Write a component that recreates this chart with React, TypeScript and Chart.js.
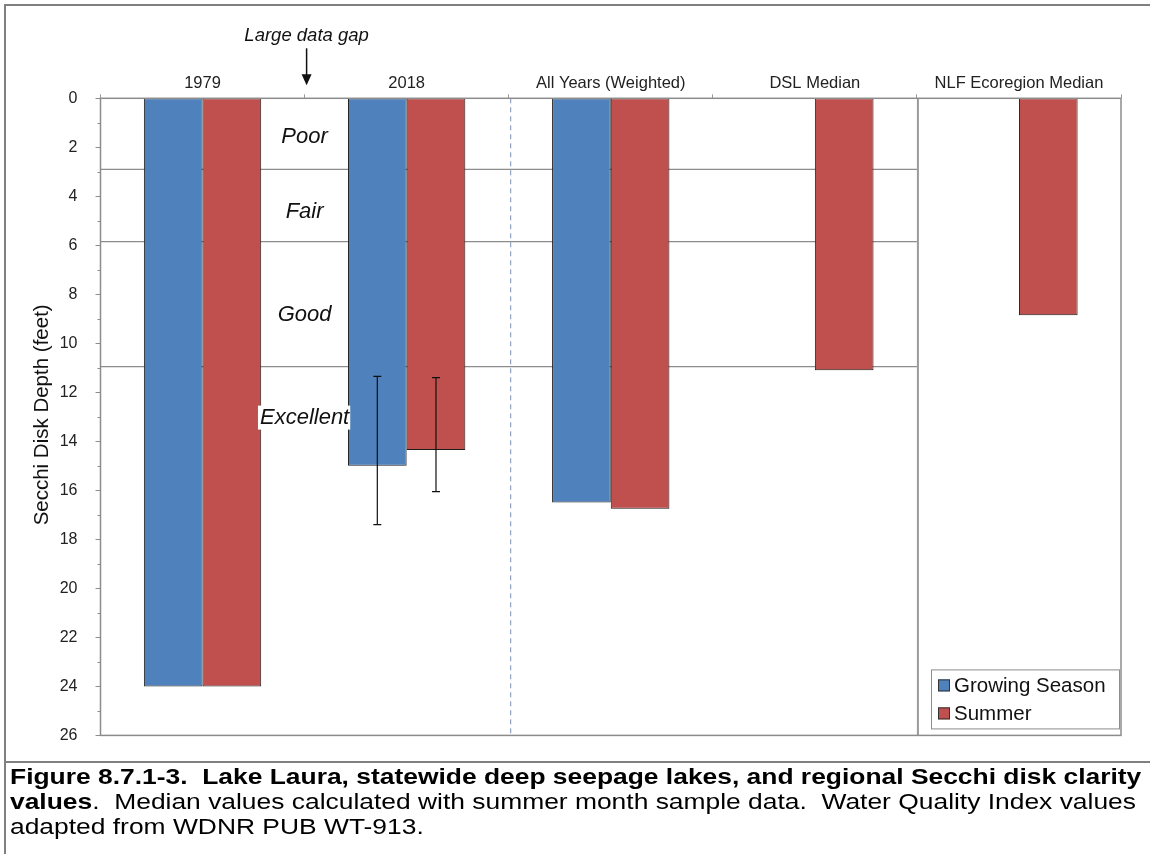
import React, { useEffect, useRef } from 'react';
import { Chart, registerables } from 'chart.js';

Chart.register(...registerables);

const categories = ['1979', '2018', 'All Years (Weighted)', 'DSL Median', 'NLF Ecoregion Median'];
const growingSeason: (number | null)[] = [24.0, 15.0, 16.5, null, null];
const summer: (number | null)[] = [24.0, 14.35, 16.75, 11.1, 8.85];
const growingErrLow: (number | null)[] = [null, 11.35, null, null, null];
const growingErrHigh: (number | null)[] = [null, 17.4, null, null, null];
const summerErrLow: (number | null)[] = [null, 11.4, null, null, null];
const summerErrHigh: (number | null)[] = [null, 16.05, null, null, null];
const qualityBounds = [2.9, 5.85, 10.95];
const qualityNames = ['Poor', 'Fair', 'Good', 'Excellent'];
const qualityLabelDepths = [1.56, 4.63, 8.83, 13.03];
const yTickValues = [0, 2, 4, 6, 8, 10, 12, 14, 16, 18, 20, 22, 24, 26];
const seriesNames = ['Growing Season', 'Summer'];
const seriesColors = ['#4F81BD', '#C0504D'];

const FONT = "'Liberation Sans', Arial, sans-serif";

const overlayPlugin = {
  id: 'overlay',
  beforeDatasetsDraw(chart: any) {
    const { ctx, chartArea: a, scales } = chart;
    const x = scales.x;
    const y = scales.y;
    const b34 = (x.getPixelForValue(3) + x.getPixelForValue(4)) / 2;
    const b12 = (x.getPixelForValue(1) + x.getPixelForValue(2)) / 2;
    ctx.save();
    ctx.strokeStyle = '#8c8c8c';
    ctx.lineWidth = 1.3;
    qualityBounds.forEach((v) => {
      const py = y.getPixelForValue(v);
      ctx.beginPath();
      ctx.moveTo(a.left, py);
      ctx.lineTo(b34, py);
      ctx.stroke();
    });
    ctx.strokeStyle = '#7b8fb5';
    ctx.lineWidth = 1;
    ctx.setLineDash([5, 4]);
    ctx.beginPath();
    ctx.moveTo(b12 + 2, a.top);
    ctx.lineTo(b12 + 2, a.bottom);
    ctx.stroke();
    ctx.setLineDash([]);
    ctx.strokeStyle = '#9a9a9a';
    ctx.lineWidth = 2;
    ctx.beginPath();
    ctx.moveTo(b34 + 1, a.top);
    ctx.lineTo(b34 + 1, a.bottom);
    ctx.stroke();
    ctx.restore();
  },
  afterDatasetsDraw(chart: any) {
    const { ctx, chartArea: a, scales } = chart;
    const x = scales.x;
    const y = scales.y;
    ctx.save();

    // error bars
    const errs = [
      [growingErrLow, growingErrHigh],
      [summerErrLow, summerErrHigh],
    ];
    ctx.strokeStyle = '#111';
    ctx.lineWidth = 1.2;
    errs.forEach(([lo, hi], di) => {
      const meta = chart.getDatasetMeta(di);
      lo.forEach((lv, i) => {
        const hv = hi[i];
        if (lv == null || hv == null) return;
        const el = meta.data[i];
        if (!el) return;
        const px = el.x;
        const y1 = y.getPixelForValue(lv);
        const y2 = y.getPixelForValue(hv);
        ctx.beginPath();
        ctx.moveTo(px, y1);
        ctx.lineTo(px, y2);
        ctx.moveTo(px - 4, y1);
        ctx.lineTo(px + 4, y1);
        ctx.moveTo(px - 4, y2);
        ctx.lineTo(px + 4, y2);
        ctx.stroke();
      });
    });

    // plot frame
    ctx.strokeStyle = '#8c8c8c';
    ctx.lineWidth = 1.5;
    ctx.strokeRect(a.left, a.top, a.right - a.left, a.bottom - a.top);

    // y tick marks (major and minor)
    ctx.strokeStyle = '#8c8c8c';
    ctx.lineWidth = 1;
    for (let v = 0; v <= 26; v++) {
      const py = Math.round(y.getPixelForValue(v)) + 0.5;
      const len = v % 2 === 0 ? 5 : 3;
      ctx.beginPath();
      ctx.moveTo(a.left - len, py);
      ctx.lineTo(a.left, py);
      ctx.stroke();
    }

    // quality labels
    const b01 = (x.getPixelForValue(0) + x.getPixelForValue(1)) / 2;
    ctx.font = `italic 22px ${FONT}`;
    ctx.textAlign = 'center';
    ctx.textBaseline = 'middle';
    qualityNames.forEach((name, i) => {
      const py = y.getPixelForValue(qualityLabelDepths[i]);
      const w = ctx.measureText(name).width;
      if (name === 'Excellent') {
        ctx.fillStyle = '#ffffff';
        ctx.fillRect(b01 - w / 2 - 2, py - 12, w + 3, 24);
      }
      ctx.fillStyle = '#111';
      ctx.fillText(name, b01, py);
    });

    // Large data gap annotation
    const ax = b01 + 2;
    ctx.font = `italic 18.5px ${FONT}`;
    ctx.fillStyle = '#111';
    ctx.fillText('Large data gap', ax, a.top - 62);
    ctx.strokeStyle = '#111';
    ctx.lineWidth = 1.5;
    ctx.beginPath();
    ctx.moveTo(ax, a.top - 50);
    ctx.lineTo(ax, a.top - 22);
    ctx.stroke();
    ctx.beginPath();
    ctx.moveTo(ax - 5, a.top - 24);
    ctx.lineTo(ax + 5, a.top - 24);
    ctx.lineTo(ax, a.top - 13);
    ctx.closePath();
    ctx.fillStyle = '#111';
    ctx.fill();

    // legend
    const lx = a.right - 190;
    const ly = a.bottom - 66;
    const lw = 188;
    const lh = 59;
    ctx.fillStyle = '#ffffff';
    ctx.fillRect(lx, ly, lw, lh);
    ctx.strokeStyle = '#8c8c8c';
    ctx.lineWidth = 1;
    ctx.strokeRect(lx + 0.5, ly + 0.5, lw, lh);
    ctx.font = `20.5px ${FONT}`;
    ctx.textAlign = 'left';
    ctx.textBaseline = 'middle';
    chart.data.datasets.forEach((ds: any, i: number) => {
      const cy = ly + 16 + i * 28;
      ctx.fillStyle = ds.backgroundColor;
      ctx.fillRect(lx + 7, cy - 6, 12, 12);
      ctx.strokeStyle = '#333';
      ctx.lineWidth = 1;
      ctx.strokeRect(lx + 7.5, cy - 5.5, 11, 11);
      ctx.fillStyle = '#111';
      ctx.fillText(ds.label, lx + 23, cy + 1);
    });

    // y axis title
    ctx.save();
    ctx.translate(42, (a.top + a.bottom) / 2 - 2);
    ctx.rotate(-Math.PI / 2);
    ctx.font = `20.5px ${FONT}`;
    ctx.fillStyle = '#111';
    ctx.textAlign = 'center';
    ctx.textBaseline = 'middle';
    ctx.fillText('Secchi Disk Depth (feet)', 0, 0);
    ctx.restore();

    ctx.restore();
  },
};

function SecchiChart() {
  const ref = useRef<HTMLCanvasElement | null>(null);
  useEffect(() => {
    if (!ref.current) return;
    const chart = new Chart(ref.current, {
      type: 'bar',
      data: {
        labels: categories,
        datasets: [
          {
            label: seriesNames[0],
            data: growingSeason,
            backgroundColor: seriesColors[0],
            borderColor: '#1c1c1c',
            borderWidth: 1,
            borderSkipped: false,
            categoryPercentage: 0.575,
            barPercentage: 1.0,
          },
          {
            label: seriesNames[1],
            data: summer,
            backgroundColor: seriesColors[1],
            borderColor: '#1c1c1c',
            borderWidth: 1,
            borderSkipped: false,
            categoryPercentage: 0.575,
            barPercentage: 1.0,
          },
        ],
      },
      options: {
        responsive: false,
        animation: false,
        layout: { padding: { left: 0, right: 29, top: 68.3, bottom: 18.3 } },
        plugins: {
          legend: { display: false },
          tooltip: { enabled: false },
        },
        scales: {
          x: {
            position: 'top',
            offset: true,
            grid: {
              display: true,
              offset: true,
              drawOnChartArea: false,
              drawTicks: true,
              tickLength: 4,
              color: '#9a9a9a',
            },
            border: { display: false },
            ticks: {
              font: { family: FONT, size: 16.5 },
              color: '#222',
              padding: 1,
              maxRotation: 0,
              autoSkip: false,
            },
            afterFit: (s: any) => {
              s.height = 30;
            },
          },
          y: {
            reverse: true,
            min: 0,
            max: 26,
            grid: { display: false },
            border: { display: false },
            afterBuildTicks: (s: any) => {
              s.ticks = yTickValues.map((v) => ({ value: v }));
            },
            ticks: {
              font: { family: FONT, size: 16 },
              color: '#222',
              padding: 15,
            },
            afterFit: (s: any) => {
              s.width = 100.5;
            },
          },
        },
      },
      plugins: [overlayPlugin],
    } as any);
    return () => chart.destroy();
  }, []);
  return <canvas ref={ref} width={1150} height={760} style={{ display: 'block' }} />;
}

const captionLine: React.CSSProperties = {
  whiteSpace: 'pre',
  transformOrigin: 'left center',
  transform: 'scaleX(1.2)',
  height: 25,
  lineHeight: '25px',
};

export default function App() {
  return (
    <div
      style={{
        position: 'absolute',
        left: 0,
        top: 0,
        width: 1150,
        height: 854,
        overflow: 'hidden',
        background: '#fff',
        fontFamily: FONT,
      }}
    >
      <div style={{ position: 'absolute', left: 0, top: 0 }}>
        <SecchiChart />
      </div>
      <div
        style={{
          position: 'absolute',
          left: 4,
          top: 4,
          width: 1170,
          height: 900,
          border: '2px solid #808080',
          pointerEvents: 'none',
        }}
      />
      <div style={{ position: 'absolute', left: 4, top: 761, width: 1150, height: 2, background: '#808080' }} />
      <div style={{ position: 'absolute', left: 10, top: 764, fontSize: 22, color: '#000' }}>
        <div style={{ ...captionLine, fontWeight: 'bold' }}>
          {'Figure 8.7.1-3.  Lake Laura, statewide deep seepage lakes, and regional Secchi disk clarity'}
        </div>
        <div style={captionLine}>
          <b>values</b>
          {'.  Median values calculated with summer month sample data.  Water Quality Index values'}
        </div>
        <div style={captionLine}>{'adapted from WDNR PUB WT-913.'}</div>
      </div>
    </div>
  );
}
